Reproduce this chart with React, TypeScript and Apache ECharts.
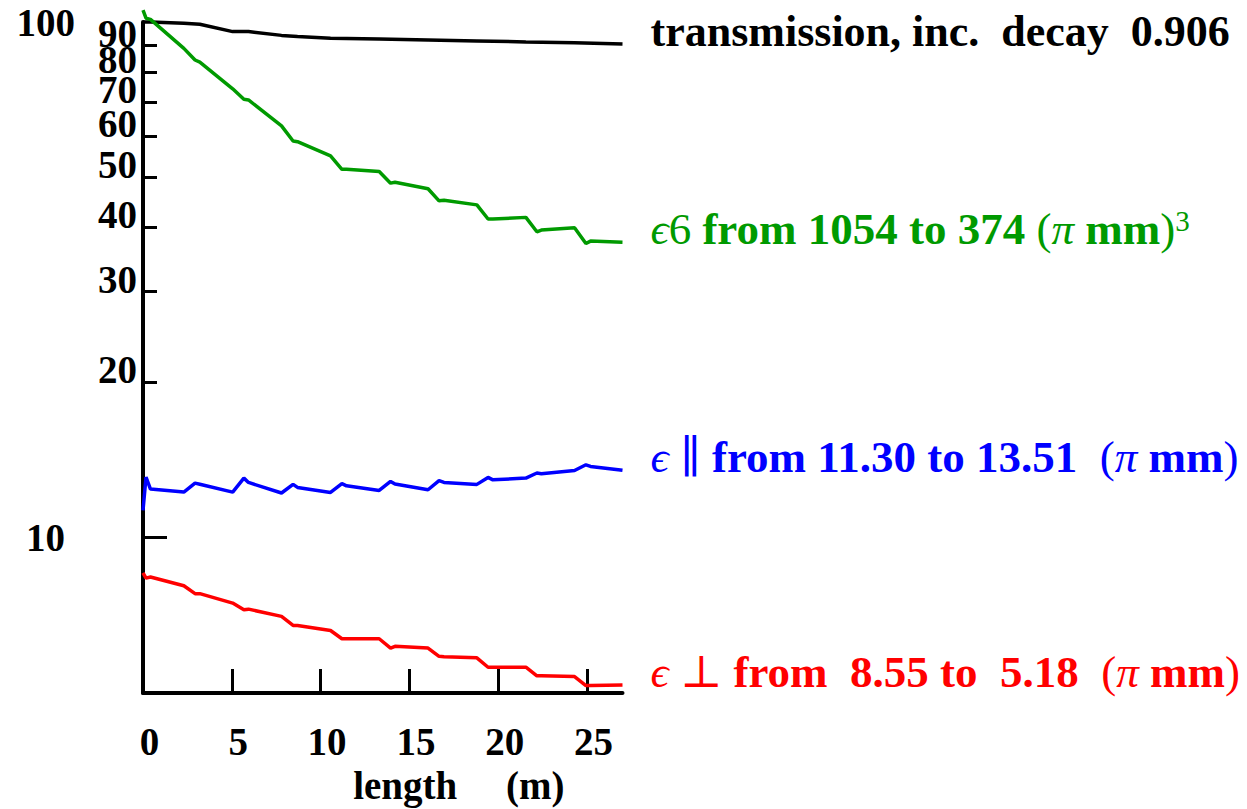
import React, { useEffect, useRef } from "react";
import * as echarts from "echarts";

// ---- data ----
const lengthM = [0, 0.17, 0.42, 2.3, 2.93, 3.2, 5.05, 5.68, 5.94, 7.8, 8.45, 8.7, 10.56, 11.2, 11.46, 13.3, 13.94, 14.19, 16.05, 16.67, 16.95, 18.8, 19.43, 19.7, 21.56, 22.18, 22.43, 24.3, 24.94, 25.2, 27.0];
const eps6Over10 = [105.4, 101.7, 101.2, 88.9, 84.4, 83.6, 74.2, 70.8, 70.6, 62.9, 58.8, 58.6, 55.0, 51.8, 51.8, 51.3, 48.7, 48.9, 47.5, 45.0, 45.1, 44.2, 41.5, 41.5, 41.8, 39.2, 39.5, 39.9, 37.2, 37.6, 37.4];
const epsPar = [11.3, 13.11, 12.43, 12.26, 12.76, 12.7, 12.26, 13.05, 12.8, 12.21, 12.69, 12.52, 12.24, 12.73, 12.61, 12.35, 12.86, 12.71, 12.39, 12.9, 12.8, 12.69, 13.09, 12.95, 13.05, 13.35, 13.31, 13.5, 13.85, 13.75, 13.51];
const epsPerp = [8.55, 8.35, 8.39, 8.07, 7.79, 7.79, 7.47, 7.25, 7.27, 7.04, 6.76, 6.76, 6.61, 6.37, 6.37, 6.37, 6.11, 6.16, 6.11, 5.89, 5.88, 5.85, 5.61, 5.61, 5.61, 5.4, 5.4, 5.38, 5.17, 5.17, 5.18];
const transLengthM = [0, 0.42, 2.3, 3.2, 5.05, 5.94, 7.8, 8.7, 10.56, 13.3, 16.05, 18.8, 21.56, 24.3, 27.0];
const transPct = [100, 100, 99.4, 99.0, 95.8, 95.8, 94.2, 93.7, 93.0, 92.7, 92.3, 91.9, 91.5, 91.2, 90.6];

const xTicks = [0, 5, 10, 15, 20, 25];
const yTicksEven = [20, 40, 60, 80];
const yTicksOdd = [30, 50, 70, 90];
const yTickTen = [10];
const yTickHundred = [100];

const labelTrans = "transmission, inc.  decay  0.906";
const labelEps6 = "{e|ϵ}{m|6} from 1054 to 374 {m|(}{e|π} mm{m|)}{s|3}";
const labelPar = "{e|ϵ}{m| ∥} from 11.30 to 13.51  {m|(}{e|π} mm{m|)}";
const labelPerp = "{e|ϵ}{m| ⊥} from  8.55 to  5.18  {m|(}{e|π} mm{m|)}";

const FONT = "'Liberation Serif', 'DejaVu Serif', serif";
const GREEN = "#009a00";

function pairs(xs: number[], ys: number[]) {
  return xs.map((x, i) => [x, ys[i]]);
}

function endLabel(text: string, color: string, fs: number) {
  return {
    show: true,
    formatter: text,
    distance: 28,
    offset: [0, -13],
    align: "left",
    verticalAlign: "middle",
    color,
    fontFamily: FONT,
    fontSize: fs,
    fontWeight: "bold",
    lineHeight: fs,
    rich: {
      m: { fontFamily: FONT, fontSize: fs, fontWeight: "normal", color, lineHeight: fs },
      e: { fontFamily: FONT, fontSize: fs, fontWeight: "normal", fontStyle: "italic", color, lineHeight: fs },
      s: { fontFamily: FONT, fontSize: 29, fontWeight: "normal", color, verticalAlign: "top", lineHeight: 29 },
    },
  };
}

const axisFont = { fontFamily: FONT, fontSize: 39, fontWeight: "bold" as const, color: "#000" };

export default function App() {
  const ref = useRef<HTMLDivElement>(null);
  useEffect(() => {
    if (!ref.current) return;
    const chart = echarts.init(ref.current, undefined, { renderer: "svg" });
    const yBase = {
      type: "log",
      logBase: 10,
      min: 5,
      max: 100,
      position: "left",
      splitLine: { show: false },
      minorTick: { show: false },
      minorSplitLine: { show: false },
    };
    const yLabelCommon = {
      ...axisFont,
      showMinLabel: true,
      showMaxLabel: true,
      hideOverlap: false,
      formatter: (v: number) => String(Math.round(v)),
    };
    const tickStyle = { color: "#000", width: 3 };
    chart.setOption({
      animation: false,
      backgroundColor: "#ffffff",
      grid: { left: 143, right: 624.5, top: 22, bottom: 116, outerBoundsMode: "none" },
      xAxis: {
        type: "value",
        min: 0,
        max: 27,
        splitLine: { show: false },
        axisLine: { show: true, lineStyle: { color: "#000", width: 4 } },
        axisTick: { show: true, inside: true, length: 24, customValues: xTicks, lineStyle: tickStyle },
        axisLabel: {
          ...axisFont,
          customValues: xTicks,
          showMinLabel: true,
          showMaxLabel: true,
          margin: 29,
          lineHeight: 39,
          padding: [0, 0, 0, 13],
          formatter: (v: number) => String(Math.round(v)),
        },
        name: "length     (m)",
        nameLocation: "middle",
        nameGap: 72,
        nameTextStyle: { ...axisFont, lineHeight: 39, padding: [0, 0, 0, 152] },
      },
      yAxis: [
        {
          ...yBase,
          axisLine: { show: true, lineStyle: { color: "#000", width: 4 } },
          axisTick: { show: true, inside: true, length: 14, customValues: yTicksEven, lineStyle: tickStyle },
          axisLabel: { ...yLabelCommon, customValues: yTicksEven, margin: 6, verticalAlign: "bottom", lineHeight: 25 },
        },
        {
          ...yBase,
          axisLine: { show: false },
          axisTick: { show: true, inside: true, length: 14, customValues: yTicksOdd, lineStyle: tickStyle },
          axisLabel: { ...yLabelCommon, customValues: yTicksOdd, margin: 6, verticalAlign: "bottom", lineHeight: 25 },
        },
        {
          ...yBase,
          axisLine: { show: false },
          axisTick: { show: true, inside: true, length: 24, customValues: yTickTen, lineStyle: tickStyle },
          axisLabel: {
            ...yLabelCommon,
            customValues: yTickTen,
            margin: 78,
            verticalAlign: "middle",
            lineHeight: 39,
            padding: [4, 0, 0, 0],
          },
        },
        {
          ...yBase,
          axisLine: { show: false },
          axisTick: { show: false },
          axisLabel: { ...yLabelCommon, customValues: yTickHundred, margin: 68, verticalAlign: "middle", lineHeight: 39 },
        },
      ],
      series: [
        {
          type: "line",
          name: "transmission",
          data: pairs(transLengthM, transPct),
          symbol: "none",
          clip: false,
          lineStyle: { color: "#000", width: 3.5 },
          endLabel: endLabel(labelTrans, "#000", 44),
        },
        {
          type: "line",
          name: "eps6",
          data: pairs(lengthM, eps6Over10),
          symbol: "none",
          clip: false,
          lineStyle: { color: GREEN, width: 3.5 },
          endLabel: endLabel(labelEps6, GREEN, 45),
        },
        {
          type: "line",
          name: "epsPar",
          data: pairs(lengthM, epsPar),
          symbol: "none",
          clip: false,
          lineStyle: { color: "#0000ff", width: 3.5 },
          endLabel: endLabel(labelPar, "#0000ff", 45),
        },
        {
          type: "line",
          name: "epsPerp",
          data: pairs(lengthM, epsPerp),
          symbol: "none",
          clip: false,
          lineStyle: { color: "#ff0000", width: 3.5 },
          endLabel: endLabel(labelPerp, "#ff0000", 45),
        },
      ],
    });
    return () => chart.dispose();
  }, []);
  return (
    <div
      ref={ref}
      style={{ position: "fixed", left: 0, top: 0, width: 1247, height: 809, background: "#fff" }}
    />
  );
}
